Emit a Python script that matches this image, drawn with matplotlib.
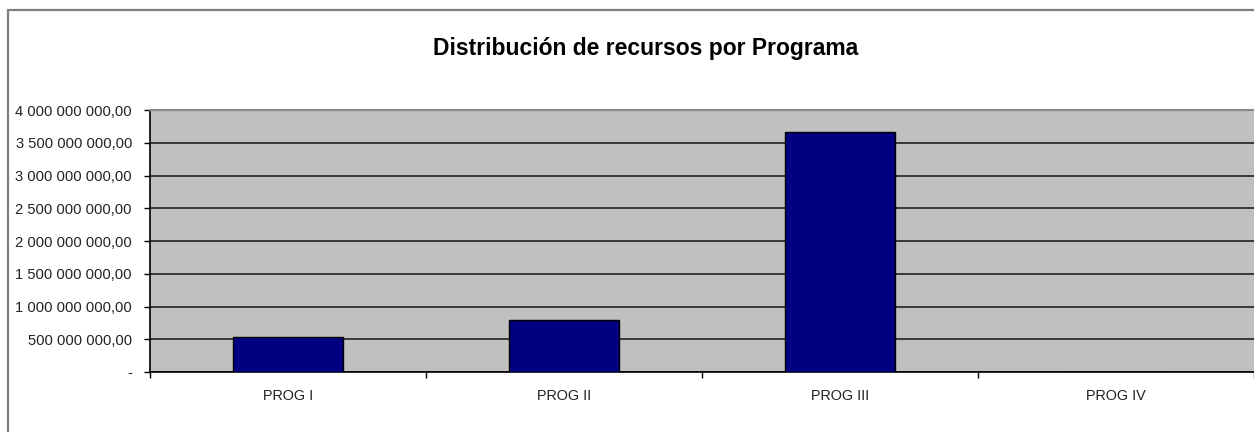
import matplotlib
matplotlib.use("Agg")
import matplotlib.pyplot as plt
from matplotlib.ticker import FuncFormatter, FixedLocator
from matplotlib.patches import Rectangle

categories = ["PROG I", "PROG II", "PROG III", "PROG IV"]
values = [534_000_000, 800_000_000, 3_664_000_000, 0]
y_ticks = [0, 500_000_000, 1_000_000_000, 1_500_000_000, 2_000_000_000,
           2_500_000_000, 3_000_000_000, 3_500_000_000, 4_000_000_000]
title = "Distribución de recursos por Programa"

plt.rcParams['font.family'] = ['Liberation Sans', 'DejaVu Sans']

fig = plt.figure(figsize=(12.54, 4.32), dpi=100)
fig.patch.set_facecolor('white')

# chart area border
fig.patches.append(Rectangle((8 / 1254, -0.1), 1.2, 1 - 10 / 432 + 0.1,
                             transform=fig.transFigure, fill=False,
                             edgecolor='#7f7f7f', linewidth=1.6))

ax = fig.add_axes([150 / 1254, 1 - 372 / 432, 1 - 150 / 1254, (372 - 110) / 432])
ax.set_facecolor('#c0c0c0')

x = list(range(len(categories)))
ax.bar(x, values, width=0.4, color='#000080', edgecolor='black', linewidth=1.0, zorder=3)

ax.set_xlim(-0.5, len(categories) - 0.5)
ax.set_ylim(y_ticks[0], y_ticks[-1])
ax.set_yticks(y_ticks)

def fmt(v, pos):
    if v == 0:
        return "-"
    s = f"{v:,.2f}"
    return s.replace(",", " ").replace(".", ",")

ax.yaxis.set_major_formatter(FuncFormatter(fmt))
ax.set_xticks(x)
ax.set_xticklabels(categories)
ax.xaxis.set_minor_locator(FixedLocator([i + 0.5 for i in range(-1, len(categories))]))

ax.tick_params(axis='x', which='major', length=0, pad=12, labelsize=10.4, colors='#222222')
ax.tick_params(axis='x', which='minor', length=4, width=1, direction='out', color='black')
ax.tick_params(axis='y', length=4, width=1, direction='out', pad=9, labelsize=10.6,
               colors='#222222')
ax.tick_params(axis='y', color='black')

ax.set_axisbelow(True)
ax.yaxis.grid(True, color='#222222', linewidth=1.2)

for side in ['left', 'bottom']:
    ax.spines[side].set_color('black')
    ax.spines[side].set_linewidth(1.2)
ax.spines['right'].set_visible(False)
ax.spines['top'].set_color('#8a8a8a')
ax.spines['top'].set_linewidth(1.5)

fig.text(646 / 1254, 1 - 49 / 432, title, ha='center', va='center',
         fontsize=16.5, fontweight='bold', color='black')

fig.savefig("out.png", dpi=100)
